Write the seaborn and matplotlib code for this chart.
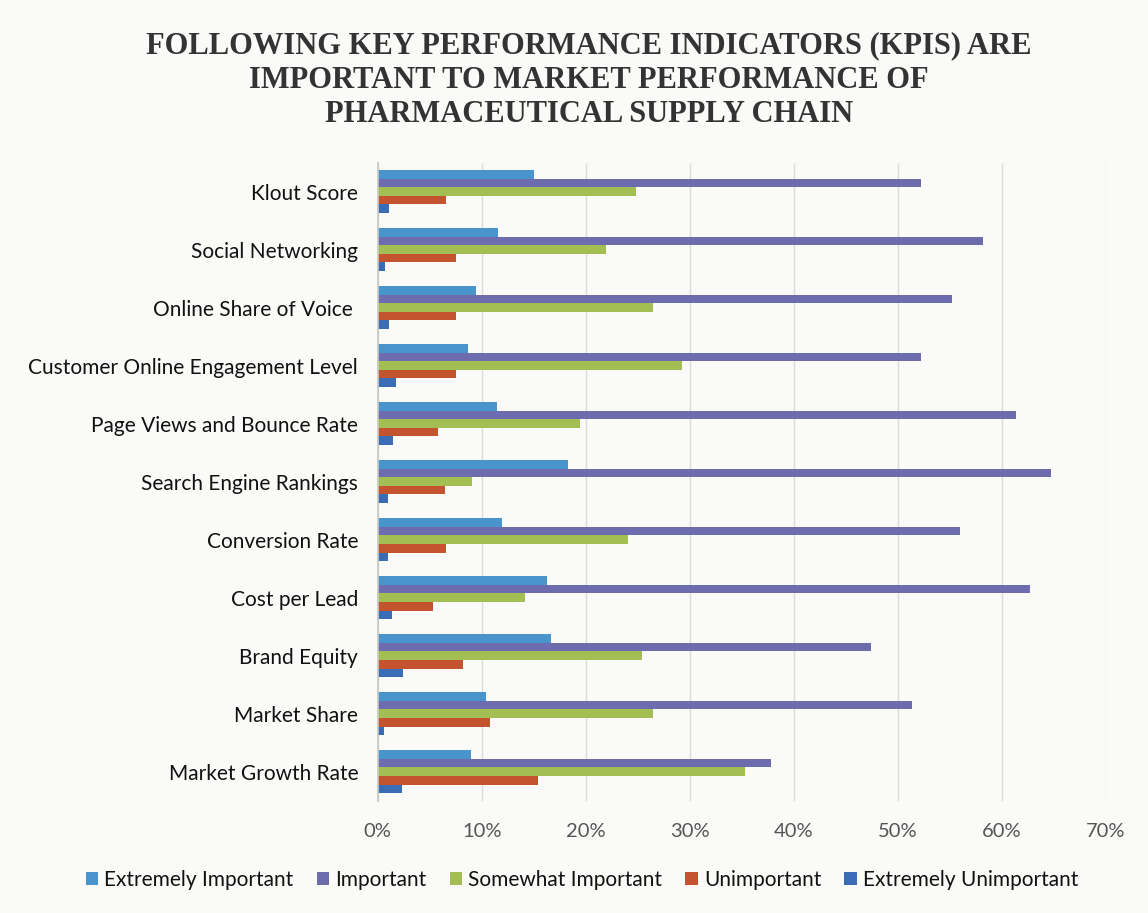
import matplotlib
matplotlib.use("Agg")
import matplotlib.pyplot as plt
import seaborn as sns
import pandas as pd
from matplotlib.ticker import PercentFormatter

categories = [
    "Klout Score",
    "Social Networking",
    "Online Share of Voice ",
    "Customer Online Engagement Level",
    "Page Views and Bounce Rate",
    "Search Engine Rankings",
    "Conversion Rate",
    "Cost per Lead",
    "Brand Equity",
    "Market Share",
    "Market Growth Rate",
]
series_names = ["Extremely Important", "Important", "Somewhat Important",
                "Unimportant", "Extremely Unimportant"]

extremely_important = [15.0, 11.6, 9.5, 8.7, 11.5, 18.3, 12.0, 16.3, 16.7, 10.4, 9.0]
important = [52.3, 58.2, 55.2, 52.3, 61.4, 64.8, 56.0, 62.7, 47.4, 51.4, 37.8]
somewhat_important = [24.8, 22.0, 26.5, 29.3, 19.5, 9.1, 24.1, 14.2, 25.4, 26.5, 35.3]
unimportant = [6.6, 7.5, 7.5, 7.5, 5.8, 6.5, 6.6, 5.3, 8.2, 10.8, 15.4]
extremely_unimportant = [1.1, 0.7, 1.1, 1.8, 1.5, 1.0, 1.0, 1.4, 2.4, 0.6, 2.3]

colors = ["#4A94CC", "#6D6CAE", "#A3BE52", "#C4532F", "#3A6DB5"]

values = [extremely_important, important, somewhat_important,
          unimportant, extremely_unimportant]
rows = []
for name, vals in zip(series_names, values):
    for cat, v in zip(categories, vals):
        rows.append({"Indicator": cat, "Rating": name, "Share": v})
df = pd.DataFrame(rows)

sns.set_theme(style="white")
plt.rcParams["font.family"] = ["Lato", "DejaVu Sans"]

fig = plt.figure(figsize=(11.48, 9.13), dpi=100, facecolor="#FAFAF8")
ax = fig.add_axes([0.329, 0.123, 0.634, 0.699])
ax.set_facecolor("#FAFAF8")

sns.barplot(data=df, y="Indicator", x="Share", hue="Rating",
            order=categories, hue_order=series_names, palette=colors,
            orient="h", width=0.74, gap=0, ax=ax, legend=True,
            saturation=1, edgecolor="none")

ax.set_xlim(0, 70)
ax.set_ylim(10.5, -0.5)
ax.set_xticks(range(0, 71, 10))
ax.xaxis.set_major_formatter(PercentFormatter(decimals=0))
ax.grid(axis="x", color="#DCDCD8", linewidth=1.0)
ax.set_axisbelow(True)
for side in ["top", "right", "bottom"]:
    ax.spines[side].set_visible(False)
ax.spines["left"].set_color("#C8C8C4")
ax.set_xlabel("")
ax.set_ylabel("")
ax.tick_params(axis="y", labelsize=15, pad=14, colors="#111111", length=0)
ax.tick_params(axis="x", labelsize=14.5, pad=16, colors="#555555", length=0)

handles, labels = ax.get_legend_handles_labels()
ax.get_legend().remove()
fig.legend(handles, labels, loc="center", bbox_to_anchor=(0.507, 0.036),
           ncol=5, frameon=False, fontsize=15, handlelength=0.6,
           handleheight=0.6, handletextpad=0.3, columnspacing=1.1,
           labelcolor="#111111")

fig.text(0.513, 0.912,
         "FOLLOWING KEY PERFORMANCE INDICATORS (KPIS) ARE\n"
         "IMPORTANT TO MARKET PERFORMANCE OF\n"
         "PHARMACEUTICAL SUPPLY CHAIN",
         ha="center", va="center", fontsize=22, fontweight="bold",
         family="Liberation Serif", color="#333333", linespacing=1.25)

fig.savefig("out.png", dpi=100, facecolor=fig.get_facecolor())
